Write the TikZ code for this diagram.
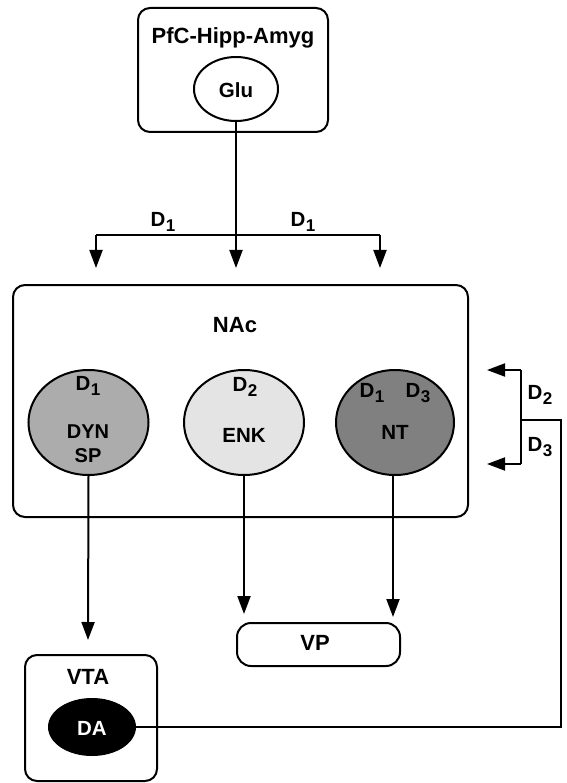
\documentclass[tikz,border=0pt]{standalone}
\usepackage{fontspec}
\setmainfont{Liberation Sans}
\usetikzlibrary{arrows.meta,shapes.geometric}
\newcommand{\Dn}[1]{D\kern0.5pt\raisebox{-5.5pt}{\fontsize{17}{17}\selectfont #1}}
\definecolor{dyngray}{RGB}{172,172,172}
\definecolor{enkgray}{RGB}{228,228,228}
\definecolor{ntgray}{RGB}{128,128,128}
\tikzset{
  lw/.style={line width=2pt},
  rbox/.style={draw, lw, rounded corners=12pt, inner sep=0pt},
  cell/.style={draw, lw, ellipse, inner sep=0pt},
  lab/.style={font=\fontsize{22}{24}\selectfont\bfseries, inner sep=0pt},
  slab/.style={font=\fontsize{20.5}{22}\selectfont\bfseries, inner sep=0pt, align=center},
  arr/.style={lw, -{Triangle[length=18pt,width=13pt]}},
  wire/.style={lw}
}
\begin{document}
\begin{tikzpicture}[x=1pt,y=-1pt]
\useasboundingbox (0,0) rectangle (566,783);
% top box
\node[rbox, minimum width=190pt, minimum height=124pt] (top) at (233,70) {};
\node[lab] (toplab) at (233,38) {PfC-Hipp-Amyg};
\node[cell, minimum width=84pt, minimum height=64pt, fill=white] (glu) at (236,89) {};
\node[slab] (glutxt) at (236,90) {Glu};
% branch
\coordinate (jl) at (96,235);
\coordinate (jr) at (380,235);
\coordinate (tl) at (96,268);
\coordinate (tm) at (236,268);
\coordinate (tr) at (380,268);
\draw[arr] (glu.south) -- (tm);
\draw[wire] (jl) -- (jr);
\draw[arr] (jl) -- (tl);
\draw[arr] (jr) -- (tr);
\node[slab] (d1a) at (163,222) {\Dn{1}};
\node[slab] (d1b) at (303,222) {\Dn{1}};
% NAc
\node[rbox, minimum width=455pt, minimum height=232pt] (nac) at (240.5,401) {};
\node[lab] (nactxt) at (235,325) {NAc};
\node[cell, minimum width=120pt, minimum height=105pt, fill=dyngray] (dyn) at (88.5,422.5) {};
\node[cell, minimum width=120pt, minimum height=105pt, fill=enkgray] (enk) at (244,422.5) {};
\node[cell, minimum width=118pt, minimum height=105pt, fill=ntgray] (nt) at (395,422.5) {};
\node[slab] (dynd) at (88,386) {\Dn{1}};
\node[slab] (enkd) at (245,387) {\Dn{2}};
\node[slab] (ntd1) at (372,393) {\Dn{1}};
\node[slab] (ntd3) at (418,393) {\Dn{3}};
\node[slab, font=\fontsize{20}{22}\selectfont\bfseries] (dyntxt) at (88,432) {DYN};
\node[slab, font=\fontsize{20}{22}\selectfont\bfseries] (sptxt) at (88,455.5) {SP};
\node[slab] (enktxt) at (244,435) {ENK};
\node[slab] (nttxt) at (395,432) {NT};
% outputs
\coordinate (vta-in) at (88,640);
\coordinate (vp-in1) at (244,614);
\coordinate (vp-in2) at (393,617);
\draw[arr] (dyn.south) -- (vta-in);
\draw[arr] (enk.south) -- (vp-in1);
\draw[arr] (nt.south -| vp-in2) -- (vp-in2);
% VP
\node[rbox, rounded corners=14pt, minimum width=163pt, minimum height=43pt] (vp) at (318.5,644.5) {};
\node[lab] (vptxt) at (315,643) {VP};
% VTA
\node[rbox, minimum width=132pt, minimum height=126pt] (vta) at (91,718) {};
\node[lab] (vtatxt) at (88,677) {VTA};
\node[cell, minimum width=86pt, minimum height=56pt, fill=black] (da) at (92,727) {};
\node[slab, text=white] (datxt) at (92,728) {DA};
% feedback
\coordinate (c1) at (561,727);
\coordinate (c2) at (561,420);
\coordinate (b) at (521,420);
\coordinate (bt) at (521,370);
\coordinate (bb) at (521,464);
\coordinate (at) at (487,370);
\coordinate (ab) at (487,464);
\draw[wire] (da.east) -- (c1) -- (c2) -- (b);
\draw[wire] (bt) -- (bb);
\draw[arr] (bt) -- (at);
\draw[arr] (bb) -- (ab);
\node[slab] (fd2) at (540,395) {\Dn{2}};
\node[slab] (fd3) at (540,447) {\Dn{3}};
\end{tikzpicture}
\end{document}
